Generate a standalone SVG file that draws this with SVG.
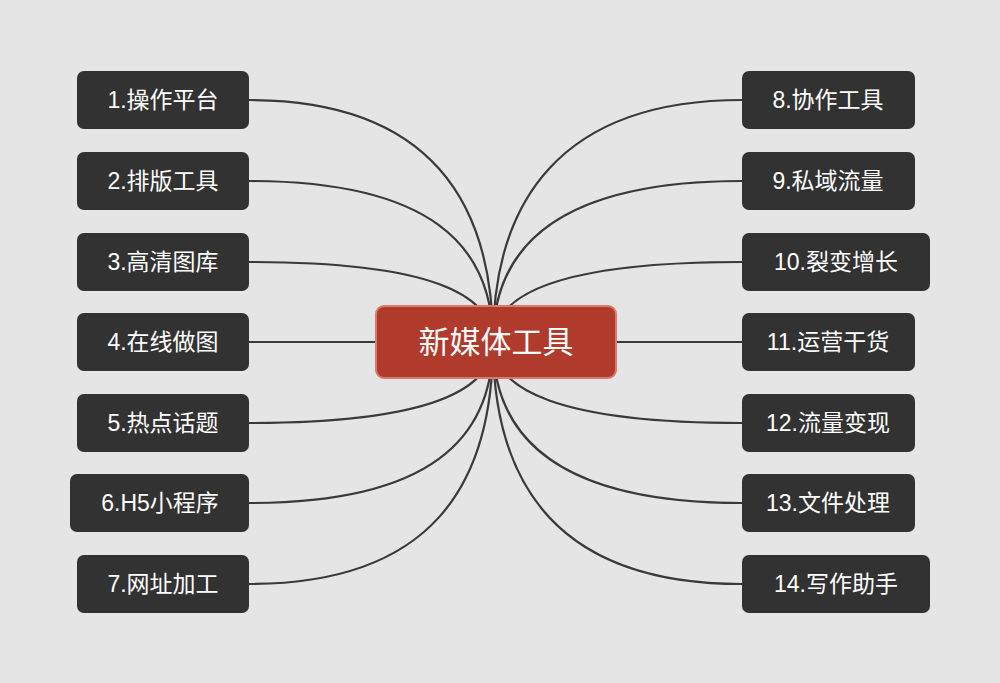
<svg xmlns="http://www.w3.org/2000/svg" width="1000" height="683" viewBox="0 0 1000 683">
<style>
.n rect{fill:#323232;}
.n text{fill:#fff;font-family:"Liberation Sans","Noto Sans CJK SC",sans-serif;font-size:23px;text-anchor:middle;dominant-baseline:central;}
#conn path{fill:none;stroke:#3a3a3a;stroke-width:2.2;}
</style>
<rect width="1000" height="683" fill="#e5e5e5"/>
<g id="conn">
<path d="M249,100 C430,100 493,202 493,342"/>
<path d="M249,181 C430,181 493,245 493,342"/>
<path d="M249,262 C430,262 493,294 493,342"/>
<path d="M249,342 L376,342"/>
<path d="M249,423 C430,423 493,390 493,342"/>
<path d="M249,503 C430,503 493,439 493,342"/>
<path d="M249,584 C430,584 493,487 493,342"/>
<path d="M742,100 C560,100 493,202 493,342"/>
<path d="M742,181 C560,181 493,245 493,342"/>
<path d="M742,262 C560,262 493,294 493,342"/>
<path d="M742,342 L616,342"/>
<path d="M742,423 C560,423 493,390 493,342"/>
<path d="M742,503 C560,503 493,439 493,342"/>
<path d="M742,584 C560,584 493,487 493,342"/>
</g>
<g id="center"><rect x="376" y="306" width="240" height="72" rx="8" fill="#b03a2c" stroke="#dc7a68" stroke-width="2"/><text x="496" y="342" fill="#fff" font-family="Liberation Sans,Noto Sans CJK SC,sans-serif" font-size="31" text-anchor="middle" dominant-baseline="central">新媒体工具</text></g>
<g id="n1" class="n"><rect x="77" y="71" width="172" height="58" rx="7"/><text x="163" y="100">1.操作平台</text></g>
<g id="n2" class="n"><rect x="77" y="152" width="172" height="58" rx="7"/><text x="163" y="181">2.排版工具</text></g>
<g id="n3" class="n"><rect x="77" y="233" width="172" height="58" rx="7"/><text x="163" y="262">3.高清图库</text></g>
<g id="n4" class="n"><rect x="77" y="313" width="172" height="58" rx="7"/><text x="163" y="342">4.在线做图</text></g>
<g id="n5" class="n"><rect x="77" y="394" width="172" height="58" rx="7"/><text x="163" y="423">5.热点话题</text></g>
<g id="n6" class="n"><rect x="70" y="474" width="179" height="58" rx="7"/><text x="160" y="503">6.H5小程序</text></g>
<g id="n7" class="n"><rect x="77" y="555" width="172" height="58" rx="7"/><text x="163" y="584">7.网址加工</text></g>
<g id="n8" class="n"><rect x="742" y="71" width="173" height="58" rx="7"/><text x="828" y="100">8.协作工具</text></g>
<g id="n9" class="n"><rect x="742" y="152" width="173" height="58" rx="7"/><text x="828" y="181">9.私域流量</text></g>
<g id="n10" class="n"><rect x="742" y="233" width="188" height="58" rx="7"/><text x="836" y="262">10.裂变增长</text></g>
<g id="n11" class="n"><rect x="742" y="313" width="173" height="58" rx="7"/><text x="828" y="342">11.运营干货</text></g>
<g id="n12" class="n"><rect x="742" y="394" width="173" height="58" rx="7"/><text x="828" y="423">12.流量变现</text></g>
<g id="n13" class="n"><rect x="742" y="474" width="173" height="58" rx="7"/><text x="828" y="503">13.文件处理</text></g>
<g id="n14" class="n"><rect x="742" y="555" width="188" height="58" rx="7"/><text x="836" y="584">14.写作助手</text></g>
</svg>
